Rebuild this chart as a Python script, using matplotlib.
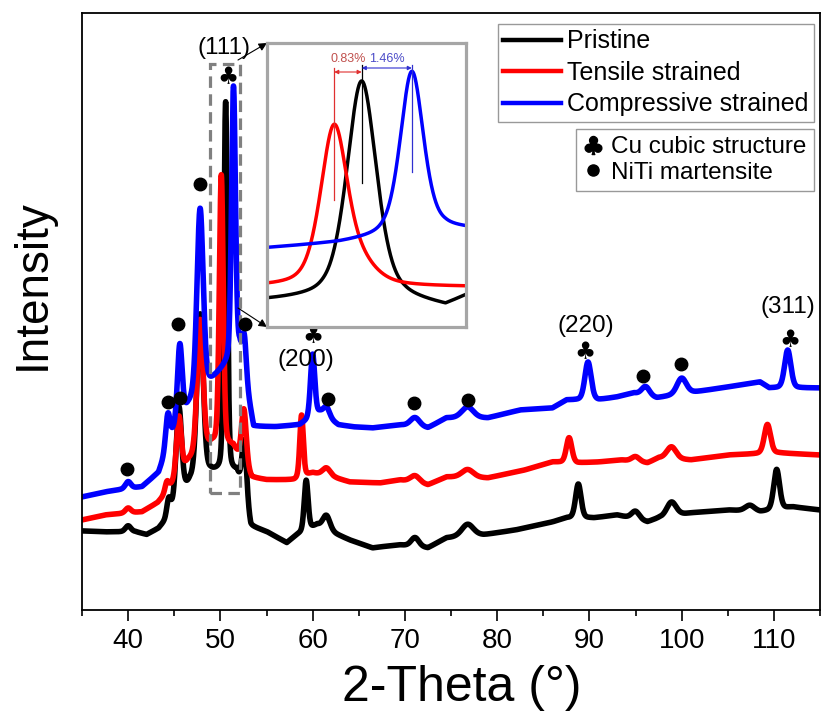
import numpy as np
import matplotlib.pyplot as plt
from matplotlib.lines import Line2D
from matplotlib.patches import Rectangle

plt.rcParams['font.family'] = ['Liberation Sans', 'DejaVu Sans']

W, H = 821, 716

# ---------------- main pattern: background anchors + reflections ----------------
two_theta = np.linspace(35, 115, 8001)

pristine_bg_x = [35, 37.5, 40.8, 42.0, 43.3, 44.0, 46.7, 48.9, 51.8, 53.3, 55, 57.2, 58.3, 60.5, 62.5,
                 64, 66.5, 67.3, 69.5, 72.5, 74.5, 78.5, 82, 86, 87.5, 90.5, 93, 96.3, 97.5, 101, 105,
                 108.5, 112, 115]
pristine_bg_y = [79, 78, 78, 75, 81, 88, 127, 137, 137, 83, 78, 67, 75, 85, 76,
                 70, 62, 63, 65, 62, 72, 75, 80, 88, 92, 92, 95, 88, 92, 97, 100,
                 98, 103, 100]
pristine_pk_pos = [40.0, 44.4, 45.5, 47.8, 50.57, 52.6, 59.3, 61.5, 71.1, 76.8, 88.8, 95.0, 98.9, 107.4, 110.3]
pristine_pk_amp = [6, 16, 92, 163, 370, 60, 50, 14, 9, 12, 34, 8, 14, 6, 40]
pristine_pk_fwhm = [0.7, 0.5, 0.7, 0.8, 0.45, 0.6, 0.5, 0.9, 1.0, 1.5, 0.7, 1.0, 1.2, 1.2, 0.75]

tensile_bg_x = [35, 37.5, 41.5, 43.2, 44.0, 46.5, 49.1, 51.4, 53.4, 55, 58, 60.0, 62.5, 64, 67.3,
                69.5, 72.5, 74.5, 79, 83, 86, 88.7, 91, 93.5, 96.3, 97.5, 101, 105, 110.5, 115]
tensile_bg_y = [90, 95, 98, 107, 115, 148, 165, 163, 132, 130, 130, 137, 132, 128, 127,
                130, 125, 133, 132, 140, 148, 147, 148, 150, 147, 152, 150, 155, 157, 155]
tensile_pk_pos = [40.0, 44.2, 45.5, 47.8, 50.10, 52.55, 58.8, 61.5, 71.1, 76.8, 87.8, 95.0, 98.9, 109.3]
tensile_pk_amp = [5, 10, 58, 133, 270, 55, 62, 8, 7, 8, 25, 5, 12, 29]
tensile_pk_fwhm = [0.7, 0.5, 0.6, 0.75, 0.5, 0.6, 0.45, 1.0, 1.2, 1.5, 0.7, 1.0, 1.2, 0.8]

compressive_bg_x = [35, 37.5, 39, 41.5, 43.3, 44.9, 46.5, 49.2, 52.1, 53.6, 56, 58.6, 60.8, 62.8, 64.5,
                    66.5, 69.5, 72.5, 74.5, 79, 82.5, 86, 87.5, 91, 93, 94.8, 97.3, 101.5, 105, 108.5,
                    109.5, 112.5, 115]
compressive_bg_y = [113, 118, 120, 123, 137, 177, 203, 230, 260, 183, 183, 185, 197, 185, 183,
                    182, 185, 182, 192, 192, 200, 202, 210, 210, 213, 217, 212, 218, 223, 228,
                    222, 222, 222]
compressive_pk_pos = [40.0, 44.3, 45.6, 47.8, 51.42, 52.6, 60.0, 61.5, 71.1, 76.8, 89.85, 96.1, 100.0, 111.5]
compressive_pk_amp = [7, 33, 76, 185, 270, 38, 63, 10, 9, 11, 38, 9, 16, 38]
compressive_pk_fwhm = [0.7, 0.55, 0.6, 0.8, 0.5, 0.5, 0.55, 0.8, 1.2, 1.5, 0.8, 1.0, 1.2, 0.8]

# ---------------- inset: (111) reflection ----------------
inset_theta = np.linspace(48.95, 52.35, 1500)
inset_pristine_bg_x = [48.95, 49.9, 51.3, 52.0, 52.35]
inset_pristine_bg_y = [26, 28, 26, 20, 30]
inset_pristine_pk_pos = [50.568]
inset_pristine_pk_amp = [219]
inset_pristine_pk_fwhm = [0.6]

inset_tensile_bg_x = [48.95, 49.6, 51.2, 52.35]
inset_tensile_bg_y = [40, 40, 40, 40]
inset_tensile_pk_pos = [50.098, 50.6]
inset_tensile_pk_amp = [160, 14]
inset_tensile_pk_fwhm = [0.55, 0.6]

inset_compressive_bg_x = [48.95, 50.2, 50.8, 52.0, 52.35]
inset_compressive_bg_y = [79, 84, 88, 97, 97]
inset_compressive_pk_pos = [51.425]
inset_compressive_pk_amp = [163]
inset_compressive_pk_fwhm = [0.47]

strain_labels = ['0.83%', '1.46%']

# ---------------- phase markers and labels ----------------
cu_x = [50.83, 60.04, 89.53, 111.75]
cu_y = [533, 274, 258, 270]
niti_x = [39.88, 44.32, 45.62, 45.41, 47.79, 52.67, 61.67, 70.99, 76.84, 95.81, 99.93]
niti_y = [141, 208, 212, 286, 426, 286, 211, 207, 210, 234, 246]
hkl_labels = ['(111)', '(200)', '(220)', '(311)']
hkl_x = [50.39, 59.28, 89.63, 111.53]
hkl_y = [562, 250, 284, 303]

series_names = ['Pristine', 'Tensile strained', 'Compressive strained']
series_colors = ['#000000', '#ff0000', '#0000ff']
phase_names = ['Cu cubic structure', 'NiTi martensite']


def pseudo_voigt(x, c, h, w, eta):
    g = np.exp(-4 * np.log(2) * ((x - c) / w) ** 2)
    lz = 1.0 / (1.0 + 4 * ((x - c) / w) ** 2)
    return h * (eta * lz + (1 - eta) * g)


def pattern(x, bgx, bgy, pos, amp, fwhm, eta):
    y = np.interp(x, bgx, bgy)
    for c, h, w in zip(pos, amp, fwhm):
        y = y + pseudo_voigt(x, c, h, w, eta)
    return y


fig = plt.figure(figsize=(W / 100, H / 100), dpi=100)
ax = fig.add_axes([82 / W, (H - 610) / H, 738 / W, 597 / H])

main_sets = [
    (pristine_bg_x, pristine_bg_y, pristine_pk_pos, pristine_pk_amp, pristine_pk_fwhm),
    (tensile_bg_x, tensile_bg_y, tensile_pk_pos, tensile_pk_amp, tensile_pk_fwhm),
    (compressive_bg_x, compressive_bg_y, compressive_pk_pos, compressive_pk_amp, compressive_pk_fwhm),
]
for (bgx, bgy, pos, amp, fw), col in zip(main_sets, series_colors):
    ax.plot(two_theta, pattern(two_theta, bgx, bgy, pos, amp, fw, 0.25),
            color=col, lw=4.0, solid_joinstyle='round', zorder=2)

ax.set_xlim(35, 115)
ax.set_ylim(0, 597)
ax.set_xticks(np.arange(40, 111, 10))
ax.set_xticks(np.arange(35, 116, 5), minor=True)
ax.set_yticks([])
ax.tick_params(axis='x', which='major', direction='out', length=8, width=1.2,
               labelsize=20, pad=5)
ax.tick_params(axis='x', which='minor', direction='out', length=4, width=1.2)
for s in ax.spines.values():
    s.set_linewidth(1.3)

# phase markers
for x, y in zip(cu_x, cu_y):
    ax.text(x, y, '\u2663', family='DejaVu Sans', fontsize=17, ha='center', va='center', zorder=5)
ax.plot(niti_x, niti_y, 'o', color='black', ms=9, ls='none', zorder=5)
for lab, x, y in zip(hkl_labels, hkl_x, hkl_y):
    ax.text(x, y, lab, fontsize=17.5, ha='center', va='center', zorder=5)

# dashed frame around the (111) reflection
ax.add_patch(Rectangle((48.9, 117), 3.25, 429, fill=False, ec='#808080', lw=2.3,
                       ls=(0, (3.6, 2.0)), zorder=3))

# inset
iax = fig.add_axes([267 / W, (H - 327) / H, 199 / W, 284 / H])
inset_sets = [
    (inset_pristine_bg_x, inset_pristine_bg_y, inset_pristine_pk_pos, inset_pristine_pk_amp, inset_pristine_pk_fwhm),
    (inset_tensile_bg_x, inset_tensile_bg_y, inset_tensile_pk_pos, inset_tensile_pk_amp, inset_tensile_pk_fwhm),
    (inset_compressive_bg_x, inset_compressive_bg_y, inset_compressive_pk_pos, inset_compressive_pk_amp, inset_compressive_pk_fwhm),
]
for (bgx, bgy, pos, amp, fw), col in zip(inset_sets, series_colors):
    iax.plot(inset_theta, pattern(inset_theta, bgx, bgy, pos, amp, fw, 0.45),
             color=col, lw=2.5)
iax.set_xlim(48.95, 52.35)
iax.set_ylim(0, 284)
iax.set_xticks([])
iax.set_yticks([])
for s in iax.spines.values():
    s.set_edgecolor('#a6a6a6')
    s.set_linewidth(2.3)

red_c, black_c, blue_c = inset_tensile_pk_pos[0], inset_pristine_pk_pos[0], inset_compressive_pk_pos[0]
iax.plot([red_c, red_c], [127, 259], color='#e03030', lw=0.9)
iax.plot([black_c, black_c], [144, 262], color='black', lw=0.9)
iax.plot([blue_c, blue_c], [155, 262], color='#3030d0', lw=0.9)
iax.annotate('', xy=(red_c, 255), xytext=(black_c, 255),
             arrowprops=dict(arrowstyle='<|-|>', color='#e03030', lw=0.8, mutation_scale=6,
                             shrinkA=0, shrinkB=0))
iax.annotate('', xy=(black_c, 259), xytext=(blue_c, 259),
             arrowprops=dict(arrowstyle='<|-|>', color='#3030d0', lw=0.8, mutation_scale=6,
                             shrinkA=0, shrinkB=0))
iax.text((red_c + black_c) / 2, 268, strain_labels[0], color='#c0504d', fontsize=9,
         ha='center', va='center')
iax.text((black_c + blue_c) / 2, 268, strain_labels[1], color='#4b4bc8', fontsize=9,
         ha='center', va='center')

# connectors from the dashed frame to the inset
arrow_kw = dict(arrowstyle='-|>', color='black', lw=0.8, mutation_scale=12, shrinkA=0, shrinkB=0)
ax.annotate('', xy=(267 / W, 1 - 43 / H), xycoords='figure fraction',
            xytext=(51.91, 550), textcoords='data', arrowprops=arrow_kw)
ax.annotate('', xy=(267 / W, 1 - 327 / H), xycoords='figure fraction',
            xytext=(51.91, 302), textcoords='data', arrowprops=arrow_kw)

# legends
h1 = [Line2D([], [], color=c, lw=3.2) for c in series_colors]
leg1 = ax.legend(h1, series_names, loc='upper right', bbox_to_anchor=(814 / W, 1 - 24 / H),
                 bbox_transform=fig.transFigure, fontsize=18, frameon=True, fancybox=False,
                 edgecolor='#808080', handlelength=2.3, handletextpad=0.25, borderpad=0.22,
                 labelspacing=0.3, borderaxespad=0)
leg1.get_frame().set_linewidth(1.0)
ax.add_artist(leg1)

h2 = [Line2D([], [], marker='$\u2663$', color='black', ls='none', ms=13),
      Line2D([], [], marker='o', color='black', ls='none', ms=8)]
leg2 = ax.legend(h2, phase_names, loc='upper right', bbox_to_anchor=(814 / W, 1 - 129 / H),
                 bbox_transform=fig.transFigure, fontsize=17.5, frameon=True, fancybox=False,
                 edgecolor='#808080', handlelength=0.8, handletextpad=0.35, borderpad=0.3,
                 labelspacing=0.15, borderaxespad=0)
leg2.get_frame().set_linewidth(1.0)

fig.text(33 / W, 1 - 285 / H, 'Intensity', rotation=90, fontsize=33, ha='center', va='center')
fig.text(462 / W, 1 - 701 / H, '2-Theta (\u00b0)', fontsize=36, ha='center', va='baseline')

fig.savefig('out.png', dpi=100)
